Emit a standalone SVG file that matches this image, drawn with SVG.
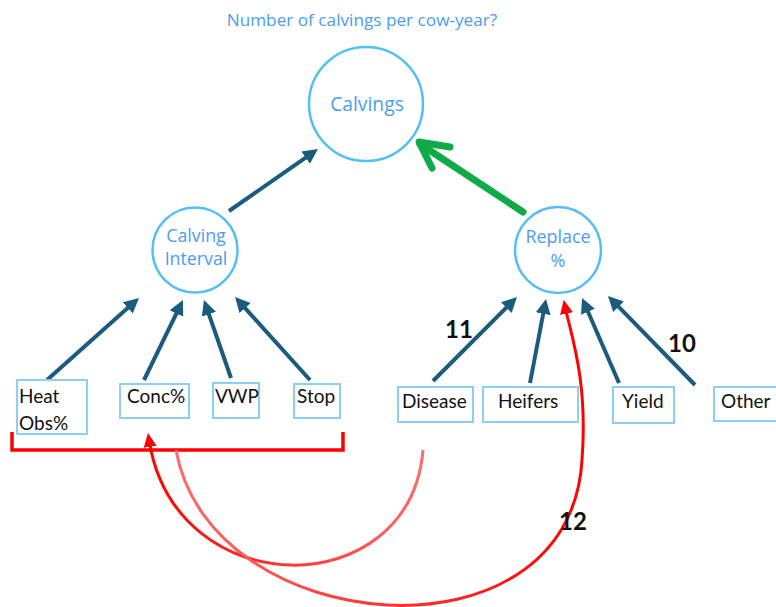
<svg xmlns="http://www.w3.org/2000/svg" width="776" height="607" viewBox="0 0 776 607">
<style>
.circ{fill:none;stroke:#55bdf7;stroke-width:2.5}
.ctxt{font-family:"Open Sans","DejaVu Sans",sans-serif;fill:#4a9df2;text-anchor:middle}
.box{fill:#fff;stroke:#8ccff5;stroke-width:2}
.btxt{font-family:Lato,"Liberation Sans",sans-serif;font-size:19px;fill:#111}
.num{font-family:Lato,"Liberation Sans",sans-serif;font-size:24px;font-weight:bold;fill:#111}
.barrow{stroke:#1a5b7e;stroke-width:4;fill:none;marker-end:url(#bh)}
</style>
<defs>
<marker id="bh" markerUnits="userSpaceOnUse" markerWidth="16" markerHeight="16" refX="7" refY="7.5" orient="auto" viewBox="0 0 16 15">
<path d="M0,0 L15,7.5 L0,15 z" fill="#1a5b7e"/>
</marker>
<marker id="rh" markerUnits="userSpaceOnUse" markerWidth="16" markerHeight="14" refX="6" refY="6.5" orient="auto" viewBox="0 0 16 13">
<path d="M0,0 L14,6.5 L0,13 z" fill="#ff0000"/>
</marker>
<linearGradient id="g1" gradientUnits="userSpaceOnUse" x1="423" y1="0" x2="148" y2="0">
<stop offset="0" stop-color="#ff6b6b"/>
<stop offset="1" stop-color="#ff0000"/>
</linearGradient>
<linearGradient id="g2" gradientUnits="userSpaceOnUse" x1="176" y1="0" x2="585" y2="0">
<stop offset="0" stop-color="#ff6b6b"/>
<stop offset="1" stop-color="#ff0000"/>
</linearGradient>
</defs>
<rect width="776" height="607" fill="#fff"/>
<text x="362" y="26" class="ctxt" font-size="17.2">Number of calvings per cow-year?</text>

<g id="connectors">
<line class="barrow" x1="229" y1="211" x2="311.4" y2="153.6"/>
<line class="barrow" x1="47" y1="380" x2="133" y2="303.3"/>
<line class="barrow" x1="144" y1="380" x2="179.5" y2="307.2"/>
<line class="barrow" x1="231" y1="378" x2="206.6" y2="307.6"/>
<line class="barrow" x1="310" y1="380" x2="240.4" y2="302.9"/>
<line class="barrow" x1="433" y1="381" x2="511.3" y2="302.7"/>
<line class="barrow" x1="530" y1="383" x2="544.5" y2="306.9"/>
<line class="barrow" x1="619" y1="383" x2="585.2" y2="305.3"/>
<line class="barrow" x1="695" y1="385" x2="613.6" y2="301.7"/>
<g stroke="#10ab48" stroke-width="7" stroke-linecap="round" stroke-linejoin="round" fill="none">
<line x1="523" y1="212" x2="420" y2="144"/>
<polyline points="450,147 419,142 432,168"/>
</g>
<polyline points="12,432 12,450 343,450 343,432" fill="none" stroke="#ff0000" stroke-width="3.5"/>
<path d="M423,450 C410,605 176,605 149.2,440.9" fill="none" stroke="url(#g1)" stroke-width="3" marker-end="url(#rh)"/>
<path d="M176,450 C210,640 570,670 582,460 C588,380 571,335 565.3,307.7" fill="none" stroke="url(#g2)" stroke-width="3" marker-end="url(#rh)"/>
</g>

<g id="calvings">
<circle class="circ" cx="366" cy="104" r="57"/>
<text x="367" y="111" class="ctxt" font-size="19.3">Calvings</text>
</g>
<g id="calving-interval">
<circle class="circ" cx="195" cy="250" r="42.5"/>
<text x="196" y="242" class="ctxt" font-size="17.8">Calving</text>
<text x="196" y="265" class="ctxt" font-size="17.8">Interval</text>
</g>
<g id="replace">
<circle class="circ" cx="558" cy="250" r="43"/>
<text x="558" y="243" class="ctxt" font-size="17.9">Replace</text>
<text x="558" y="267" class="ctxt" font-size="17.9">%</text>
</g>

<g id="heat-obs"><rect class="box" x="17" y="380" width="70" height="54"/><text class="btxt" x="19" y="403" font-size="20">Heat</text><text class="btxt" x="19" y="430" font-size="20">Obs%</text></g>
<g id="conc"><rect class="box" x="120" y="384" width="69" height="34"/><text class="btxt" x="127" y="403">Conc%</text></g>
<g id="vwp"><rect class="box" x="213" y="383" width="46" height="35"/><text class="btxt" x="215" y="403">VWP</text></g>
<g id="stop"><rect class="box" x="294" y="384" width="46" height="34"/><text class="btxt" x="297" y="403">Stop</text></g>
<g id="disease"><rect class="box" x="398" y="387" width="75" height="35"/><text class="btxt" x="402" y="408">Disease</text></g>
<g id="heifers"><rect class="box" x="483" y="387" width="95" height="35"/><text class="btxt" x="498" y="408" font-size="18">Heifers</text></g>
<g id="yield"><rect class="box" x="613" y="387" width="61" height="36"/><text class="btxt" x="622" y="408">Yield</text></g>
<g id="other"><rect class="box" x="714" y="387" width="70" height="34"/><text class="btxt" x="721" y="408">Other</text></g>

<text class="num" x="445" y="338">11</text>
<text class="num" x="668" y="352">10</text>
<text class="num" x="559" y="530">12</text>
</svg>
